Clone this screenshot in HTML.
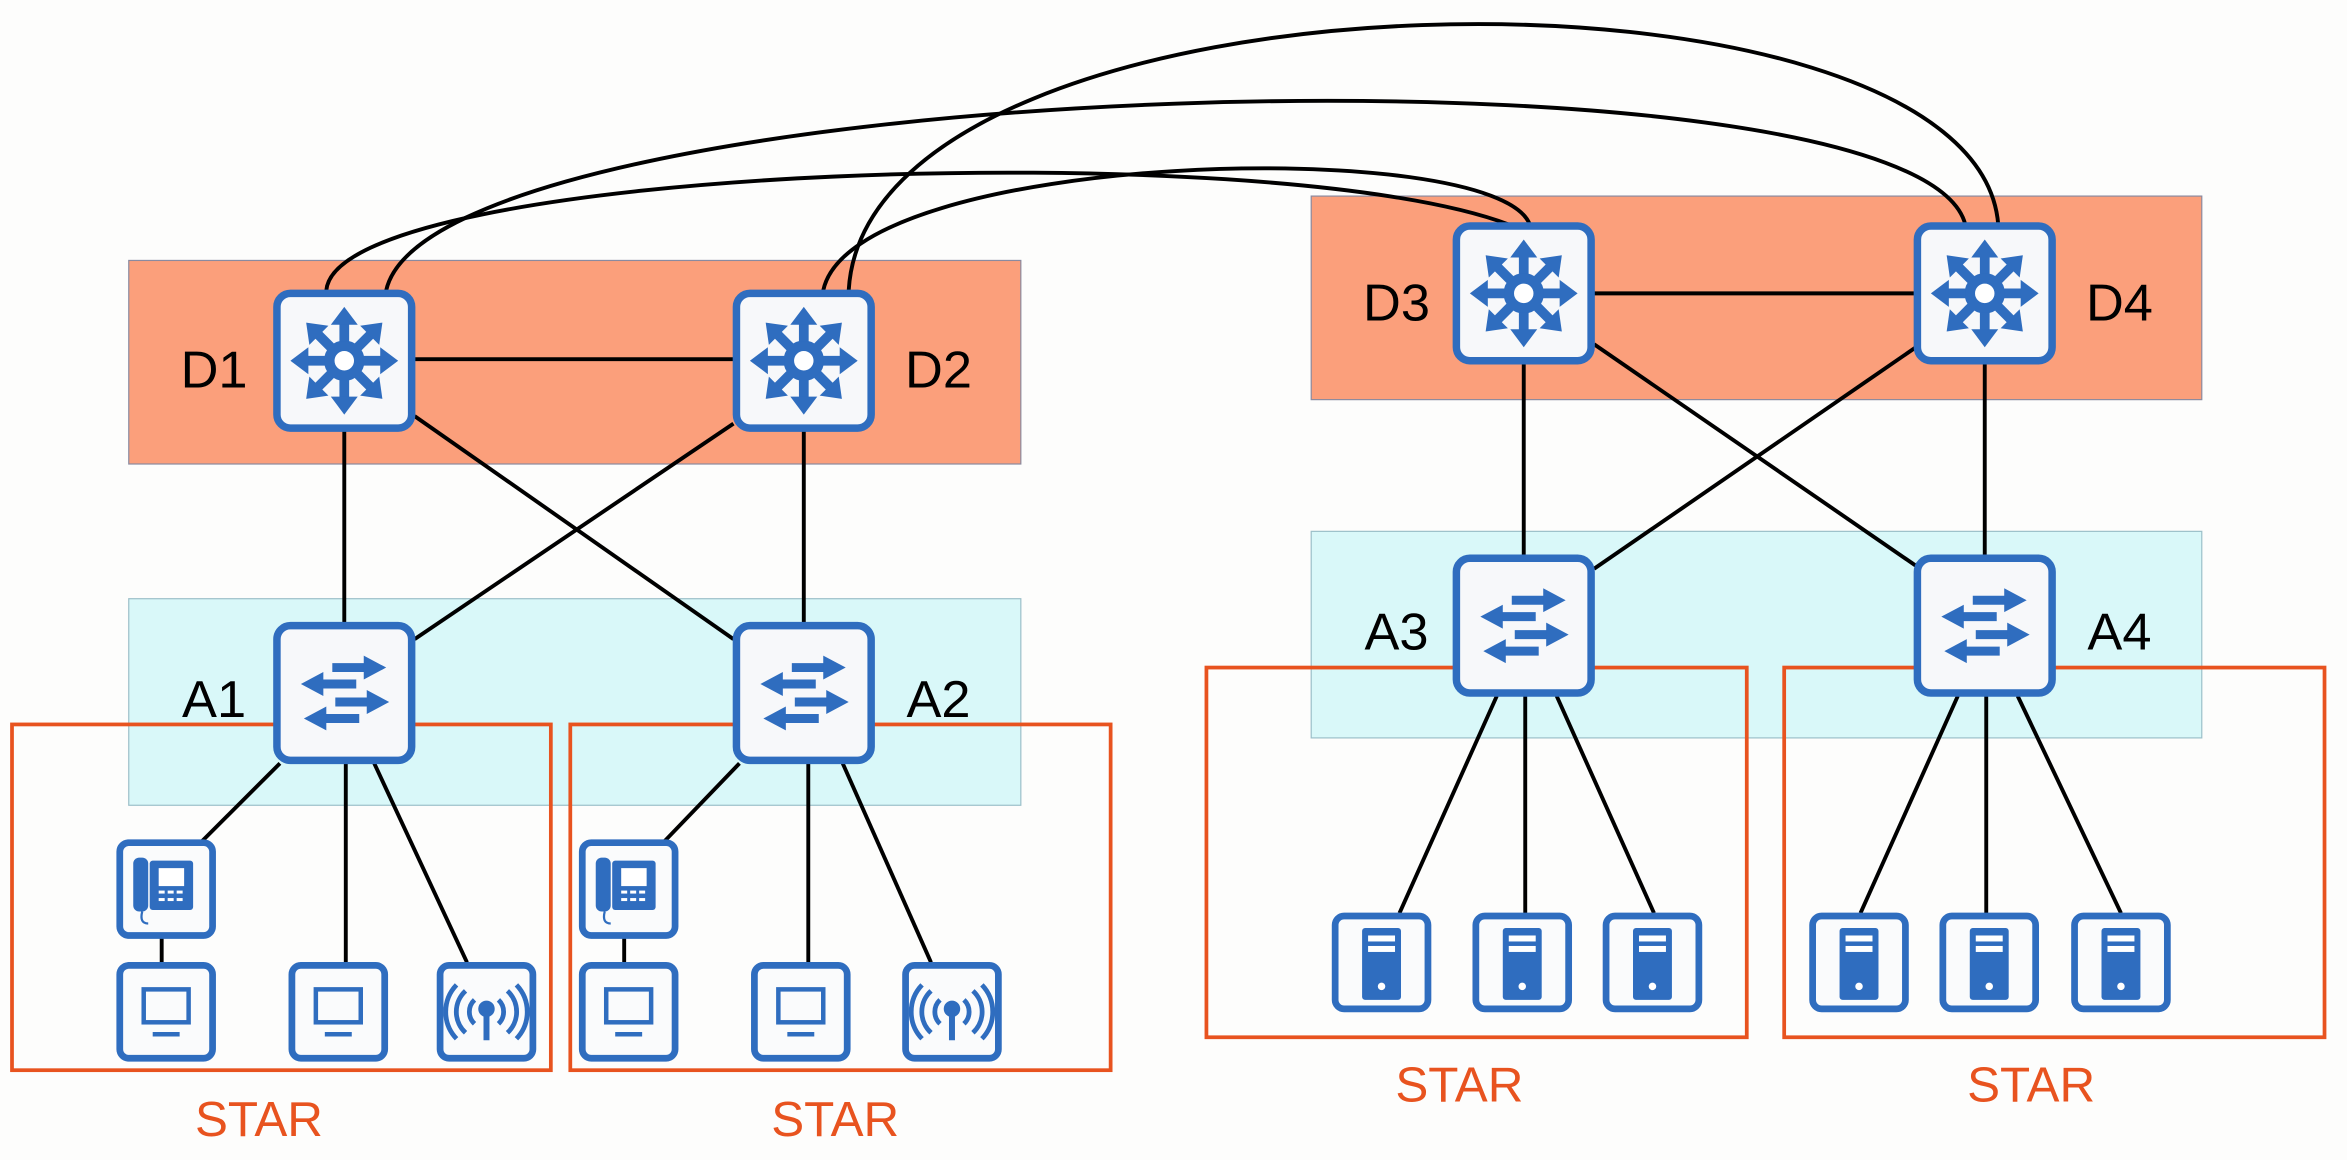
<!DOCTYPE html>
<html><head><meta charset="utf-8"><style>html,body{margin:0;padding:0;background:#fdfdfc;}svg{display:block}</style></head>
<body>
<svg width="2347" height="1160" viewBox="0 0 1568 775" xmlns="http://www.w3.org/2000/svg" font-family="Liberation Sans, sans-serif">
<defs>
<g id="arr"><line x1="0" y1="-13" x2="0" y2="-26" stroke="#2f6dbf" stroke-width="6.5"/><polygon points="-9,-24 9,-24 0,-36" fill="#2f6dbf"/></g>
<g id="l3">
<rect x="-45" y="-45" width="90" height="90" rx="9" fill="#f7f8fa" stroke="#2f6dbf" stroke-width="5"/>
<circle r="10" fill="#fff" stroke="#2f6dbf" stroke-width="7"/>
<use href="#arr"/><use href="#arr" transform="rotate(45)"/><use href="#arr" transform="rotate(90)"/><use href="#arr" transform="rotate(135)"/>
<use href="#arr" transform="rotate(180)"/><use href="#arr" transform="rotate(225)"/><use href="#arr" transform="rotate(270)"/><use href="#arr" transform="rotate(315)"/>
</g>
<g id="sw">
<rect x="-45" y="-45" width="90" height="90" rx="9" fill="#f7f8fa" stroke="#2f6dbf" stroke-width="5"/>
<g stroke="#2f6dbf" stroke-width="6" fill="#2f6dbf">
<line x1="-8" y1="-17" x2="16" y2="-17"/><polygon points="13,-25 28,-17 13,-9" stroke="none"/>
<line x1="-18" y1="-6" x2="8" y2="-6"/><polygon points="-14,-14 -29,-6 -14,2" stroke="none"/>
<line x1="-6" y1="6" x2="18" y2="6"/><polygon points="15,-2 30,6 15,14" stroke="none"/>
<line x1="-16" y1="17" x2="10" y2="17"/><polygon points="-12,9 -27,17 -12,25" stroke="none"/>
</g>
</g>
<g id="box"><rect x="-31" y="-31" width="62" height="62" rx="6" fill="#fafbfc" stroke="#2f6dbf" stroke-width="4.5"/></g>
<g id="srv"><use href="#box"/><rect x="-13" y="-23" width="26" height="48" rx="2" fill="#2f6dbf"/><rect x="-9" y="-18" width="18" height="4" fill="#fff"/><rect x="-9" y="-11" width="18" height="4" fill="#fff"/><circle cx="0" cy="16" r="2.5" fill="#fff"/></g>
<g id="pc"><use href="#box"/><rect x="-15" y="-15" width="30" height="22" fill="none" stroke="#2f6dbf" stroke-width="3"/><line x1="-9" y1="15" x2="9" y2="15" stroke="#2f6dbf" stroke-width="3"/></g>
<g id="ap"><use href="#box"/><g fill="none" stroke="#2f6dbf" stroke-width="3.2"><path d="M-8,-8 A11,11 0 0 0 -8,8"/><path d="M8,-8 A11,11 0 0 1 8,8"/><path d="M-14,-14 A19,19 0 0 0 -14,14"/><path d="M14,-14 A19,19 0 0 1 14,14"/><path d="M-20,-18 A26,26 0 0 0 -20,18"/><path d="M20,-18 A26,26 0 0 1 20,18"/></g><circle cx="0" cy="-2" r="5.5" fill="#2f6dbf"/><line x1="0" y1="0" x2="0" y2="19" stroke="#2f6dbf" stroke-width="4"/></g>
<g id="ph"><use href="#box"/><rect x="-11" y="-19" width="29" height="33" rx="2" fill="#2f6dbf"/><rect x="-5" y="-14" width="17" height="12" fill="#fff"/><g fill="#fff"><rect x="-5" y="1" width="4" height="2"/><rect x="1" y="1" width="4" height="2"/><rect x="7" y="1" width="4" height="2"/><rect x="-5" y="6" width="4" height="2"/><rect x="1" y="6" width="4" height="2"/><rect x="7" y="6" width="4" height="2"/></g><rect x="-22" y="-21" width="10" height="36" rx="4" fill="#2f6dbf"/><path d="M-16,15 q-2,8 4,8" fill="none" stroke="#2f6dbf" stroke-width="1.5"/></g>
</defs>
<rect width="1568" height="775" fill="#fdfdfc"/>
<rect x="86" y="174" width="596" height="136" fill="#fb9f7b" stroke="#8a8aa0" stroke-width="0.8"/>
<rect x="876" y="131" width="595" height="136" fill="#fb9f7b" stroke="#8a8aa0" stroke-width="0.8"/>
<rect x="86" y="400" width="596" height="138" fill="#d9f8f9" stroke="#9bbfc9" stroke-width="0.8"/>
<rect x="876" y="355" width="595" height="138" fill="#d9f8f9" stroke="#9bbfc9" stroke-width="0.8"/>
<g stroke="#000" stroke-width="2.6" fill="none">
<path d="M567,194 C580,-30 1320,-40 1335,150"/>
<path d="M258,194 C290,50 1280,20 1313,150"/>
<path d="M550,194 C570,100 1000,90 1022,150"/>
<path d="M218,194 C225,110 850,90 1008,150"/>
<line x1="277" y1="240" x2="490" y2="240"/>
<line x1="1065" y1="196" x2="1280" y2="196"/>
<line x1="230" y1="288" x2="230" y2="416"/>
<line x1="537" y1="288" x2="537" y2="416"/>
<line x1="277" y1="278" x2="490" y2="427"/>
<line x1="490" y1="283" x2="277" y2="427"/>
<line x1="1018" y1="243" x2="1018" y2="371"/>
<line x1="1326" y1="243" x2="1326" y2="371"/>
<line x1="1065" y1="230" x2="1280" y2="378"/>
<line x1="1280" y1="232" x2="1065" y2="380"/>
<line x1="187" y1="510" x2="134" y2="563"/><line x1="231" y1="510" x2="231" y2="643"/><line x1="250" y1="510" x2="312" y2="643"/><line x1="108" y1="625" x2="108" y2="643"/>
<line x1="494" y1="510" x2="443" y2="563"/><line x1="540" y1="510" x2="540" y2="643"/><line x1="563" y1="510" x2="622" y2="643"/><line x1="417" y1="625" x2="417" y2="643"/>
<line x1="1000" y1="465" x2="935" y2="610"/><line x1="1019" y1="465" x2="1019" y2="610"/><line x1="1040" y1="465" x2="1105" y2="610"/>
<line x1="1308" y1="465" x2="1243" y2="610"/><line x1="1327" y1="465" x2="1327" y2="610"/><line x1="1348" y1="465" x2="1417" y2="610"/>
</g>
<g fill="none" stroke="#e8531f" stroke-width="2.5">
<rect x="8" y="484" width="360" height="231"/><rect x="381" y="484" width="361" height="231"/>
<rect x="806" y="446" width="361" height="247"/><rect x="1192" y="446" width="361" height="247"/>
</g>
<use href="#l3" x="230" y="241"/><use href="#l3" x="537" y="241"/><use href="#l3" x="1018" y="196"/><use href="#l3" x="1326" y="196"/>
<use href="#sw" x="230" y="463"/><use href="#sw" x="537" y="463"/><use href="#sw" x="1018" y="418"/><use href="#sw" x="1326" y="418"/>
<use href="#ph" x="111" y="594"/><use href="#pc" x="111" y="676"/><use href="#pc" x="226" y="676"/><use href="#ap" x="325" y="676"/>
<use href="#ph" x="420" y="594"/><use href="#pc" x="420" y="676"/><use href="#pc" x="535" y="676"/><use href="#ap" x="636" y="676"/>
<use href="#srv" x="923" y="643"/><use href="#srv" x="1017" y="643"/><use href="#srv" x="1104" y="643"/>
<use href="#srv" x="1242" y="643"/><use href="#srv" x="1329" y="643"/><use href="#srv" x="1417" y="643"/>
<g font-size="35" fill="#000" text-anchor="middle">
<text x="143" y="259">D1</text><text x="627" y="259">D2</text><text x="933" y="214">D3</text><text x="1416" y="214">D4</text>
<text x="143" y="479">A1</text><text x="627" y="479">A2</text><text x="933" y="434">A3</text><text x="1416" y="434">A4</text>
</g>
<g font-size="33" fill="#e8531f" text-anchor="middle">
<text x="173" y="759">STAR</text><text x="558" y="759">STAR</text><text x="975" y="736">STAR</text><text x="1357" y="736">STAR</text>
</g>
</svg>
</body></html>
